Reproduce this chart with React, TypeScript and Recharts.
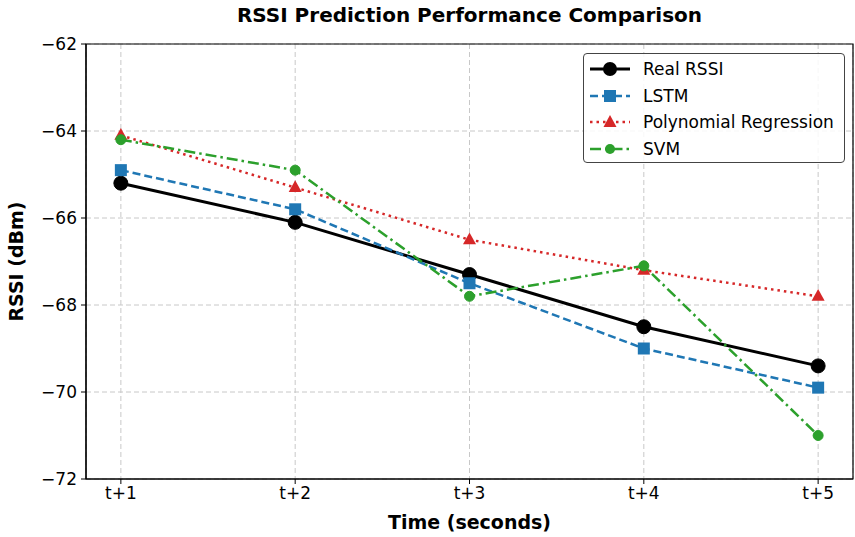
import React from 'react';
import { LineChart, Line, XAxis, YAxis, CartesianGrid, ReferenceArea } from 'recharts';

const categories = ['t+1', 't+2', 't+3', 't+4', 't+5'];
const realRssi = [-65.2, -66.1, -67.3, -68.5, -69.4];
const lstm = [-64.9, -65.8, -67.5, -69.0, -69.9];
const polyReg = [-64.1, -65.3, -66.5, -67.2, -67.8];
const svm = [-64.2, -64.9, -67.8, -67.1, -71.0];
const yTicks = [-72, -70, -68, -66, -64, -62];

const data = categories.map((c, i) => ({
  x: i + 1,
  label: c,
  real: realRssi[i],
  lstm: lstm[i],
  poly: polyReg[i],
  svm: svm[i],
}));

const FONT = '"DejaVu Sans", sans-serif';

const CircleDot = (r: number, color: string) => (props: any) => {
  const { cx, cy, index } = props;
  if (cx == null || cy == null) return <g key={index} />;
  return <circle key={index} cx={cx} cy={cy} r={r} fill={color} stroke={color} />;
};

const SquareDot = (s: number, color: string) => (props: any) => {
  const { cx, cy, index } = props;
  if (cx == null || cy == null) return <g key={index} />;
  return <rect key={index} x={cx - s / 2} y={cy - s / 2} width={s} height={s} fill={color} />;
};

const TriDot = (s: number, color: string) => (props: any) => {
  const { cx, cy, index } = props;
  if (cx == null || cy == null) return <g key={index} />;
  const h = s * 0.9;
  return (
    <polygon
      key={index}
      points={`${cx},${cy - h * 0.62} ${cx - s / 2},${cy + h * 0.38} ${cx + s / 2},${cy + h * 0.38}`}
      fill={color}
    />
  );
};

const legendItems = [
  { name: 'Real RSSI', color: '#000000', dash: undefined, width: 3, marker: 'bigcircle' },
  { name: 'LSTM', color: '#1f77b4', dash: '8 4', width: 2.5, marker: 'square' },
  { name: 'Polynomial Regression', color: '#d62728', dash: '2.5 4', width: 2.5, marker: 'tri' },
  { name: 'SVM', color: '#2ca02c', dash: '11 4 2.5 4', width: 2.5, marker: 'circle' },
];

function LegendBox() {
  return (
    <div
      style={{
        position: 'absolute',
        left: 583,
        top: 53,
        width: 262,
        height: 110,
        boxSizing: 'border-box',
        border: '1px solid #444',
        borderRadius: 4,
        background: 'rgba(255,255,255,0.85)',
        padding: '2px 0 0 5px',
        fontFamily: FONT,
        fontSize: 17,
        color: '#000',
      }}
    >
      {legendItems.map((it) => (
        <div key={it.name} style={{ display: 'flex', alignItems: 'center', height: 26.6 }}>
          <svg width={42} height={20} style={{ marginRight: 12, flexShrink: 0 }}>
            <line x1={1} y1={10} x2={41} y2={10} stroke={it.color} strokeWidth={it.width} strokeDasharray={it.dash} />
            {it.marker === 'bigcircle' && <circle cx={21} cy={10} r={7} fill={it.color} />}
            {it.marker === 'square' && <rect x={15} y={4} width={12} height={12} fill={it.color} />}
            {it.marker === 'tri' && <polygon points="21,3 14.5,15 27.5,15" fill={it.color} />}
            {it.marker === 'circle' && <circle cx={21} cy={10} r={5} fill={it.color} />}
          </svg>
          <span style={{ whiteSpace: 'nowrap' }}>{it.name}</span>
        </div>
      ))}
    </div>
  );
}

export default function App() {
  return (
    <div style={{ position: 'absolute', left: 0, top: 0, width: 855, height: 537, background: '#fff' }}>
      <div
        style={{
          position: 'absolute',
          top: 3,
          left: 86,
          width: 767,
          textAlign: 'center',
          fontFamily: FONT,
          fontWeight: 'bold',
          fontSize: 20,
        }}
      >
        RSSI Prediction Performance Comparison
      </div>
      <LineChart
        width={855}
        height={537}
        data={data}
        margin={{ top: 44, right: 2, bottom: 0, left: 0 }}
        style={{ fontFamily: FONT }}
      >
        <CartesianGrid stroke="#c8c8c8" strokeDasharray="5 3" />
        <XAxis
          dataKey="x"
          type="number"
          domain={[0.8, 5.2]}
          ticks={[1, 2, 3, 4, 5]}
          tickFormatter={(v: number) => categories[v - 1]}
          tick={{ fill: '#000', fontSize: 17 }}
          tickSize={5}
          tickMargin={3}
          height={58}
          axisLine={{ stroke: '#000', strokeWidth: 1.2 }}
          tickLine={{ stroke: '#000' }}
          label={{ value: 'Time (seconds)', position: 'insideBottom', offset: 8, fill: '#000', fontSize: 19, fontWeight: 'bold' }}
          allowDataOverflow
        />
        <YAxis
          type="number"
          domain={[-72, -62]}
          ticks={yTicks}
          tickFormatter={(v: number) => String(v).replace('-', '\u2212')}
          width={86}
          tick={{ fill: '#000', fontSize: 17 }}
          tickSize={5}
          tickMargin={4}
          axisLine={{ stroke: '#000', strokeWidth: 1.2 }}
          tickLine={{ stroke: '#000' }}
          label={{ value: 'RSSI (dBm)', angle: -90, position: 'insideLeft', offset: 16, fill: '#000', fontSize: 19, fontWeight: 'bold', style: { textAnchor: 'middle' } }}
          allowDataOverflow
        />
        <ReferenceArea x1={0.8} x2={5.2} y1={-72} y2={-62} fill="none" stroke="#000" strokeWidth={1.2} />
        <Line
          dataKey="real"
          name="Real RSSI"
          stroke="#000"
          strokeWidth={3}
          dot={CircleDot(7, '#000')}
          isAnimationActive={false}
        />
        <Line
          dataKey="lstm"
          name="LSTM"
          stroke="#1f77b4"
          strokeWidth={2.5}
          strokeDasharray="8 4"
          dot={SquareDot(12, '#1f77b4')}
          isAnimationActive={false}
        />
        <Line
          dataKey="poly"
          name="Polynomial Regression"
          stroke="#d62728"
          strokeWidth={2.5}
          strokeDasharray="2.5 4"
          dot={TriDot(13, '#d62728')}
          isAnimationActive={false}
        />
        <Line
          dataKey="svm"
          name="SVM"
          stroke="#2ca02c"
          strokeWidth={2.5}
          strokeDasharray="11 4 2.5 4"
          dot={CircleDot(5, '#2ca02c')}
          isAnimationActive={false}
        />
      </LineChart>
      <LegendBox />
    </div>
  );
}
